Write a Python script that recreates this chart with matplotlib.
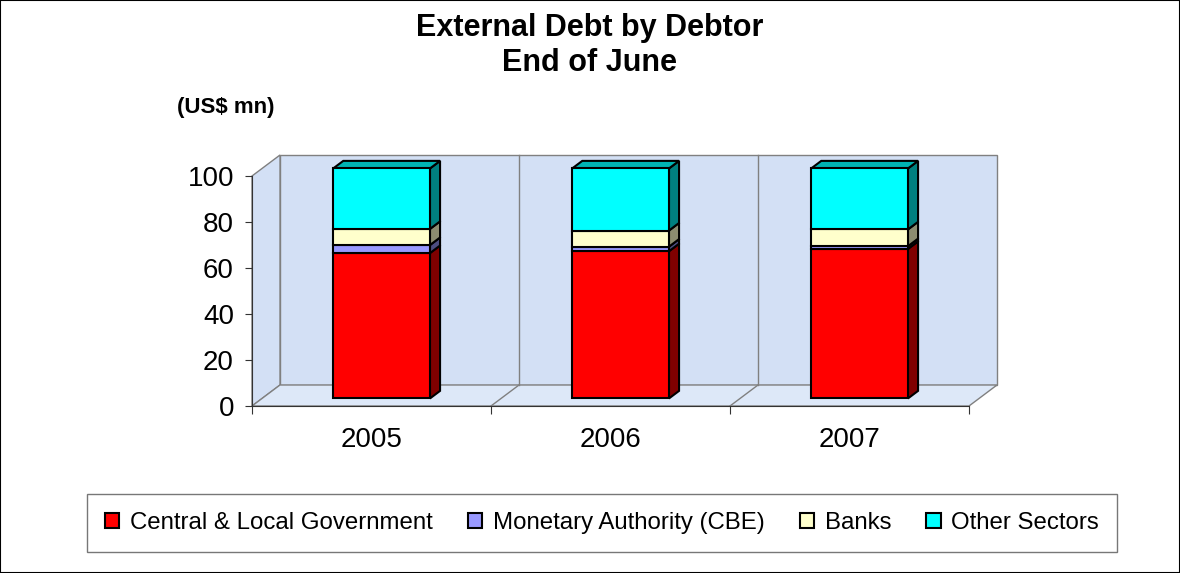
import numpy as np
import matplotlib.pyplot as plt
from matplotlib.patches import Polygon, Rectangle

plt.rcParams['font.family'] = ['Liberation Sans', 'DejaVu Sans']

# data (shares of total, %)
years = ['2005', '2006', '2007']
series = ['Central & Local Government', 'Monetary Authority (CBE)', 'Banks', 'Other Sectors']
central = [63.2, 64.0, 65.0]
cbe = [3.5, 2.0, 1.2]
banks = [7.0, 7.0, 7.3]
other = [26.3, 27.0, 26.5]
yticks = [0, 20, 40, 60, 80, 100]

face = ['#ff0000', '#9999ff', '#ffffcc', '#00ffff']
side = ['#800000', '#4d4d80', '#8c8c70', '#008080']
top = ['#b30000', '#6b6bb3', '#b3b38f', '#00b3b3']
wall = '#d3e0f5'
floor = '#dde8f8'
grid = '#808080'

# 3d look: depth offset in pixels for full depth
DX, DY = 28, 21
D0, D1 = 0.36, 0.72
W = 0.405

fig = plt.figure(figsize=(11.8, 5.73), dpi=100)
ax = fig.add_axes([252/1180, 1-406/573, 717/1180, 230/573])
ax.set_xlim(0, 3)
ax.set_ylim(0, 100)
ax.patch.set_visible(False)

ppx = ax.bbox.width / 3
ppy = ax.bbox.height / 100


def off(x, y, d):
    return (x + DX*d/ppx, y + DY*d/ppy)


def poly(pts, fc, ec, z, lw=1.0):
    ax.add_patch(Polygon(pts, closed=True, fc=fc, ec=ec, lw=lw, zorder=z, clip_on=False))


# walls and floor
poly([off(0, 0, 1), off(3, 0, 1), off(3, 100, 1), off(0, 100, 1)], wall, grid, 0)
poly([(0, 0), (0, 100), off(0, 100, 1), off(0, 0, 1)], wall, grid, 0)
poly([(0, 0), (3, 0), off(3, 0, 1), off(0, 0, 1)], floor, grid, 0)
for xb in [1, 2]:
    ax.plot(*zip(off(xb, 0, 1), off(xb, 100, 1)), color=grid, lw=1, zorder=0.5, clip_on=False)
    ax.plot(*zip((xb, 0), off(xb, 0, 1)), color=grid, lw=1, zorder=0.5, clip_on=False)

# stacked bars
vals = [central, cbe, banks, other]
xc = np.arange(len(years)) + 0.5
xf = xc + DX*D0/ppx
bottom = np.zeros(len(years)) + DY*D0/ppy
handles = []
for i, v in enumerate(vals):
    v = np.array(v)
    for j in range(len(years)):
        xr = xc[j] + W/2
        y0 = bottom[j] - DY*D0/ppy
        y1 = y0 + v[j]
        poly([off(xr, y0, D0), off(xr, y1, D0), off(xr, y1, D1), off(xr, y0, D1)],
             side[i], 'black', 2, 1.5)
        if i == len(vals) - 1:
            xl = xc[j] - W/2
            poly([off(xl, y1, D0), off(xr, y1, D0), off(xr, y1, D1), off(xl, y1, D1)],
                 top[i], 'black', 2, 1.5)
    b = ax.bar(xf, v, bottom=bottom, width=W, color=face[i], edgecolor='black',
               lw=1.5, zorder=3, label=series[i], clip_on=False)
    handles.append(b)
    bottom = bottom + v

# axes
for s in ['top', 'right']:
    ax.spines[s].set_visible(False)
ax.spines['left'].set_color('#333333')
ax.spines['bottom'].set_color('#333333')
ax.set_yticks(yticks)
ax.tick_params(axis='y', length=5, pad=8, labelsize=20, color='#333333')
ax.set_xticks([0, 1, 2, 3])
ax.set_xticklabels([])
ax.tick_params(axis='x', which='major', length=6, color='#333333')
ax.set_xticks(xc, minor=True)
ax.set_xticklabels(years, minor=True)
ax.tick_params(axis='x', which='minor', length=0, pad=15, labelsize=20)

# texts
fig.text(590/1180, 1-28/573, 'External Debt by Debtor', ha='center', va='center',
         fontsize=22, fontweight='bold')
fig.text(590/1180, 1-63/573, 'End of June', ha='center', va='center',
         fontsize=22, fontweight='bold')
fig.text(226/1180, 1-107/573, '(US$ mn)', ha='center', va='center',
         fontsize=16, fontweight='bold')

leg = fig.legend(handles, series, loc='center', bbox_to_anchor=(602/1180, 1-523/573),
                 ncol=4, frameon=True, fancybox=False, edgecolor='#555555',
                 fontsize=17.3, handlelength=0.6, handleheight=0.6, handletextpad=0.45,
                 columnspacing=1.45, borderpad=0.75)
leg.get_frame().set_linewidth(1.0)

fig.patches.append(Rectangle((0, 0), 1, 1, transform=fig.transFigure, fill=False,
                             ec='black', lw=1.5))

fig.savefig('out.png', dpi=100)
